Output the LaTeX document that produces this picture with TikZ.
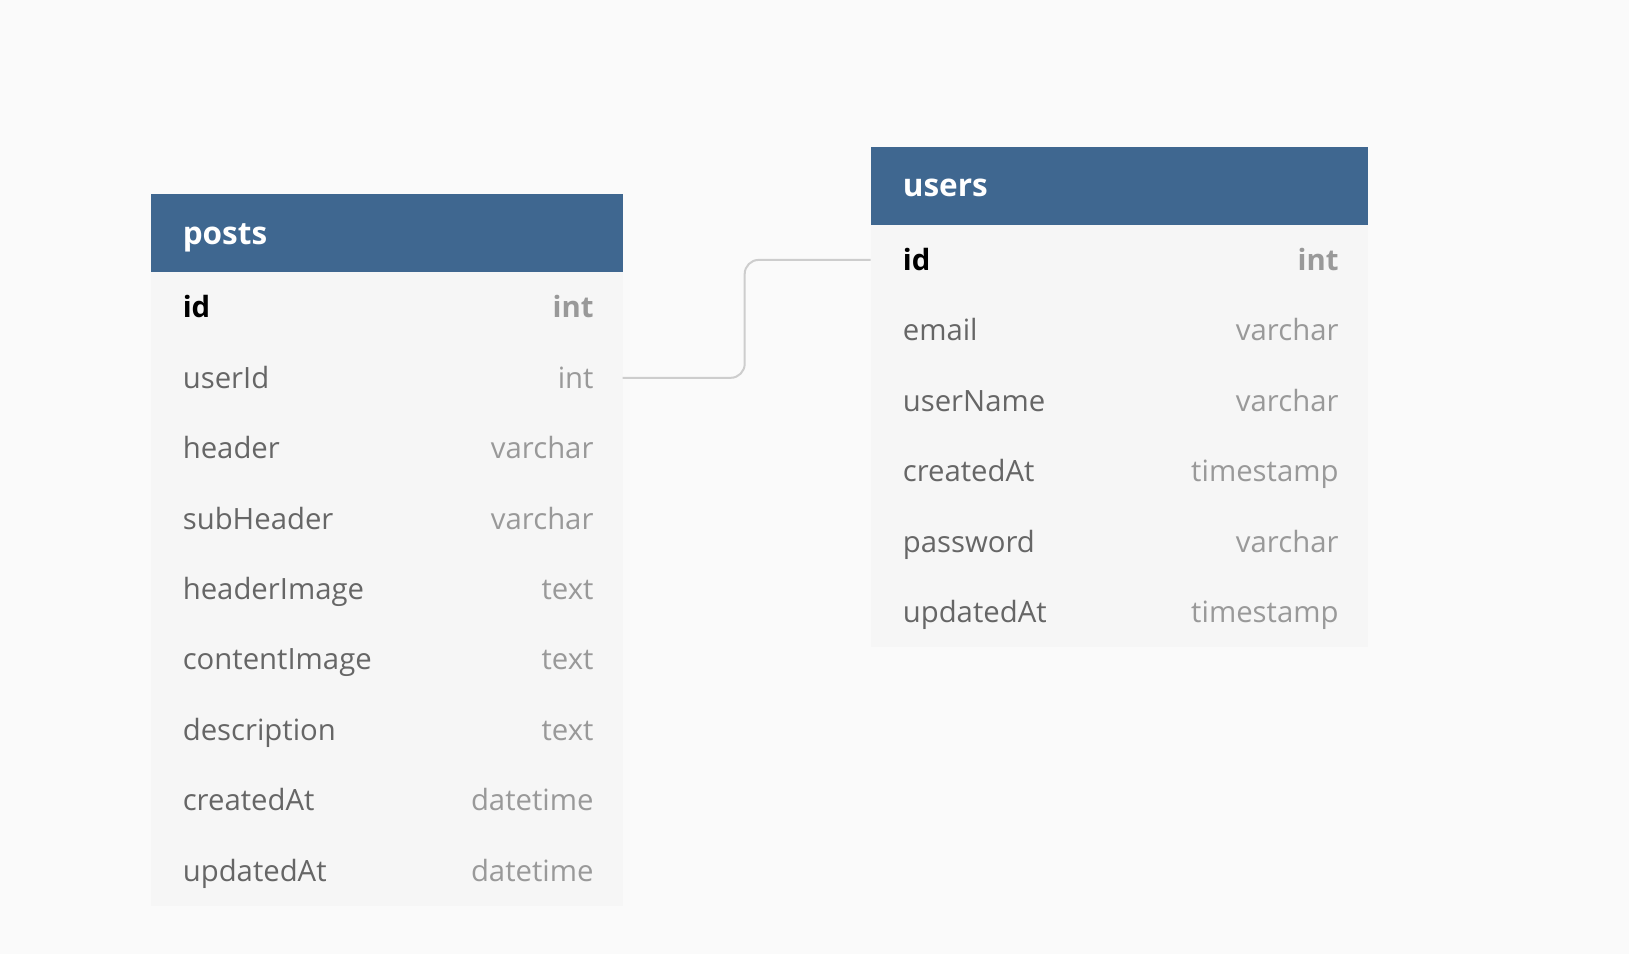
\documentclass[tikz,border=0pt]{standalone}
\usepackage{fontspec}
\setmainfont{Open Sans}
\definecolor{bg}{RGB}{250,250,250}
\definecolor{headblue}{RGB}{63,103,144}
\definecolor{rowgray}{RGB}{246,246,246}
\definecolor{namegray}{RGB}{102,102,102}
\definecolor{typegray}{RGB}{153,153,153}
\definecolor{linkgray}{RGB}{205,205,205}
\tikzset{
	tabhead/.style={rectangle, fill=headblue, minimum width=#1, minimum height=78pt, anchor=north west, inner sep=0pt},
	tabrow/.style={rectangle, fill=rowgray, minimum width=#1, minimum height=70.4pt, anchor=north west, inner sep=0pt},
	fname/.style={anchor=base west, inner sep=0pt, text=namegray, font=\fontsize{29.3}{34}\selectfont},
	ftype/.style={anchor=base east, inner sep=0pt, text=typegray, font=\fontsize{29.3}{34}\selectfont},
	ftitle/.style={anchor=base west, inner sep=0pt, text=white, font=\fontsize{31.5}{36}\selectfont\bfseries},
	link/.style={draw=linkgray, line width=2pt, rounded corners=14pt}
}
\begin{document}
\begin{tikzpicture}[x=1pt,y=-1pt]
			\fill[bg] (0,0) rectangle (1629,954);
			\useasboundingbox (0,0) rectangle (1629,954);
			% posts
			\node[tabhead=471.7pt] (posts) at (150.6,194) {};
			\node[ftitle] (posts-title) at ([xshift=32pt,yshift=-11pt]posts.west) {posts};
			\foreach \i in {1,...,9} \node[tabrow=471.7pt] (posts-r\i) at (150.6,272+70.4*\i-70.4) {};
			\node[fname, text=black, font=\fontsize{29.3}{34}\selectfont\bfseries] (posts-n1) at ([xshift=32pt,yshift=-10.5pt]posts-r1.west) {id};
			\node[ftype, font=\fontsize{29.3}{34}\selectfont\bfseries] (posts-t1) at ([xshift=-29pt,yshift=-10.5pt]posts-r1.east) {int};
			\foreach \n/\t [count=\i from 2] in {userId/int, header/varchar, subHeader/varchar, headerImage/text, contentImage/text, description/text, createdAt/datetime, updatedAt/datetime} {
				\node[fname] (posts-n\i) at ([xshift=32pt,yshift=-10.5pt]posts-r\i.west) {\n};
				\node[ftype] (posts-t\i) at ([xshift=-29pt,yshift=-10.5pt]posts-r\i.east) {\t};
			}
			% users
			\node[tabhead=496.7pt] (users) at (870.6,146.5) {};
			\node[ftitle] (users-title) at ([xshift=32pt,yshift=-11pt]users.west) {users};
			\foreach \i in {1,...,6} \node[tabrow=496.7pt] (users-r\i) at (870.6,224.5+70.4*\i-70.4) {};
			\node[fname, text=black, font=\fontsize{29.3}{34}\selectfont\bfseries] (users-n1) at ([xshift=32pt,yshift=-10.5pt]users-r1.west) {id};
			\node[ftype, font=\fontsize{29.3}{34}\selectfont\bfseries] (users-t1) at ([xshift=-29pt,yshift=-10.5pt]users-r1.east) {int};
			\foreach \n/\t [count=\i from 2] in {email/varchar, userName/varchar, createdAt/timestamp, password/varchar, updatedAt/timestamp} {
				\node[fname] (users-n\i) at ([xshift=32pt,yshift=-10.5pt]users-r\i.west) {\n};
				\node[ftype] (users-t\i) at ([xshift=-29pt,yshift=-10.5pt]users-r\i.east) {\t};
			}
			% reference
			\draw[link] (posts-r2.east) -- ([xshift=122pt]posts-r2.east) |- (users-r1.west);
		\end{tikzpicture}
\end{document}
